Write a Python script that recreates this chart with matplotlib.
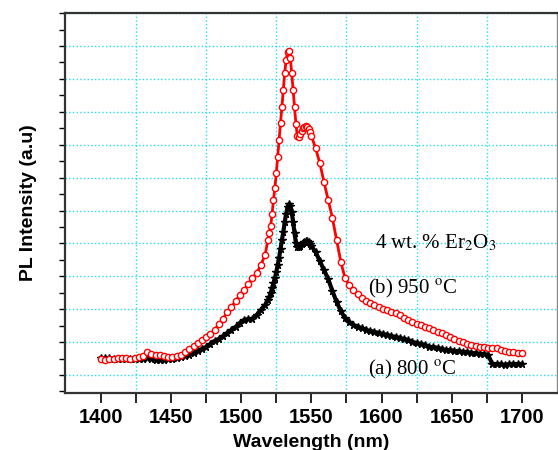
import matplotlib
matplotlib.use("Agg")
import matplotlib.pyplot as plt
from matplotlib.ticker import MultipleLocator, FixedLocator, NullFormatter

# wavelength sampling (nm): coarse on the wings, 1 nm over the peak
wl = list(range(1400, 1518, 3)) + list(range(1519, 1551)) + list(range(1553, 1701, 3))

# (b) 950 C, PL intensity (a.u.)
pl_950 = [41, 40, 41, 41, 42, 42, 42, 41, 42, 43, 44, 48, 46, 45, 45, 44, 43, 43, 44, 45,
          48, 51, 54, 57, 60, 63, 66, 70, 76, 81, 88, 93, 99, 105, 110, 116, 122, 127, 135, 145,
          160, 167, 174, 186, 200, 212, 227, 243, 260, 277, 293, 310, 327, 340, 348, 349,
          342, 327, 310, 293, 276, 264, 263, 266, 269, 272, 273, 274, 273, 271, 268, 264,
          252, 237, 218, 200, 182, 160, 138, 122, 115, 110, 106, 102, 99, 97, 95, 93, 91, 90,
          88, 87, 85, 82, 80, 78, 76, 75, 73, 72, 70, 68, 67, 65, 63, 61, 59, 58, 56, 55,
          54, 53, 53, 52, 52, 52, 50, 49, 48, 48, 47, 47]

# (a) 800 C
pl_800 = [42, 42, 42, 41, 41, 41, 41, 41, 41, 41, 41, 42, 41, 40, 40, 40, 41, 41, 42, 43,
          44, 45, 47, 49, 51, 53, 56, 59, 61, 64, 67, 70, 73, 77, 80, 81, 81, 85, 90, 95,
          100, 103, 107, 112, 117, 122, 128, 135, 142, 151, 160, 168, 178, 186, 193, 196,
          194, 188, 178, 167, 157, 153, 153, 154, 156, 157, 158, 159, 159, 158, 156, 154,
          148, 139, 130, 121, 109, 98, 89, 82, 78, 75, 73, 72, 70, 69, 68, 67, 66, 65,
          64, 63, 62, 61, 60, 58, 57, 56, 55, 53, 53, 52, 51, 50, 50, 49, 49, 48, 48, 47,
          47, 46, 46, 45, 36, 36, 36, 35, 36, 36, 36, 36]

plt.rcParams['mathtext.fontset'] = 'stix'

fig = plt.figure(figsize=(5.58, 4.5), dpi=100)
ax = fig.add_axes([0.1165, 0.1267, 0.8815, 0.8443])

ax.plot(wl, pl_800, color="black", lw=3, marker="*", ms=5.5)
ax.plot(wl, pl_950, color="red", lw=2, marker="o", ms=4.5,
        mfc="white", mec="red", mew=1)

ax.set_xlim(1374.4, 1725)
ax.set_ylim(7, 387)

ax.xaxis.set_major_locator(MultipleLocator(50))
ax.xaxis.set_minor_locator(FixedLocator([1425, 1475, 1525, 1575, 1625, 1675]))
ax.yaxis.set_major_locator(MultipleLocator(32.9, offset=25))
ax.yaxis.set_minor_locator(MultipleLocator(16.45, offset=25))
ax.yaxis.set_major_formatter(NullFormatter())

ax.grid(True, which="minor", axis="x", color="#22e0f0", linestyle=":", lw=1)
ax.grid(True, which="major", axis="y", color="#22e0f0", linestyle=":", lw=1)
ax.set_axisbelow(True)

ax.tick_params(axis="x", which="both", direction="out", length=7, width=1.2)
ax.tick_params(axis="y", which="both", direction="out", length=4, width=1)
ax.tick_params(top=False, right=False)
for lab in ax.get_xticklabels():
    lab.set_fontfamily("Liberation Sans")
    lab.set_fontweight("bold")
    lab.set_fontsize(14.5)

for side in ["left", "bottom", "top"]:
    ax.spines[side].set_color("#333333")
    ax.spines[side].set_linewidth(1.6)
ax.spines["right"].set_color("#888888")
ax.spines["right"].set_linewidth(1)

ax.set_xlabel("Wavelength (nm)", family="Liberation Sans", weight="bold", fontsize=14, labelpad=5)
ax.set_ylabel("PL Intensity (a.u)", family="Liberation Sans", weight="bold", fontsize=14, labelpad=13)

ax.text(1595.6, 152, "4 wt. % Er$_2$O$_3$", family="Liberation Serif", fontsize=15,
        ha="left", va="baseline")
ax.text(1590.6, 107, "(b) 950 $^{\\mathrm{o}}$C", family="Liberation Serif", fontsize=15,
        ha="left", va="baseline")
ax.text(1590.6, 26, "(a) 800 $^{\\mathrm{o}}$C", family="Liberation Serif", fontsize=15,
        ha="left", va="baseline")

fig.savefig("out.png", dpi=100)
